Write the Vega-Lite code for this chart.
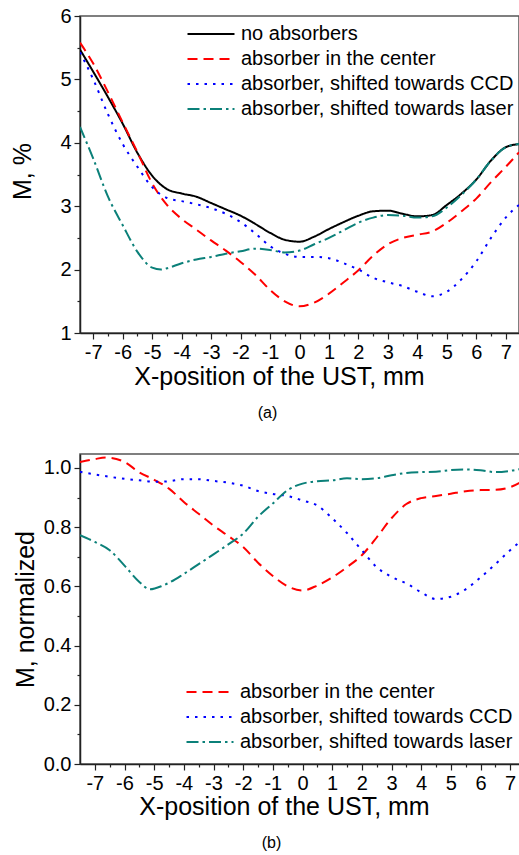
{
  "$schema": "https://vega.github.io/schema/vega-lite/v6.json",
  "background": "white",
  "padding": {"left": 9, "top": 5, "right": 0, "bottom": 0},
  "spacing": 31,
  "config": {
    "font": "Liberation Sans",
    "view": {"stroke": "#555", "strokeWidth": 1.5},
    "axis": {"grid": false, "domainColor": "#222", "domainWidth": 1.5, "tickColor": "#222", "tickWidth": 1.2, "labelColor": "black", "titleColor": "black", "labelFontSize": 20, "titleFontSize": 25, "titleFontWeight": "normal", "labelFont": "Liberation Sans", "titleFont": "Liberation Sans", "labelPadding": 3},
    "legend": {"symbolType": "M-2,0H2", "symbolSize": 552, "symbolStrokeWidth": 2, "labelFontSize": 20, "labelOffset": 17, "labelColor": "black", "labelFont": "Liberation Sans", "rowPadding": 2, "padding": 0, "labelLimit": 400}
  },
  "resolve": {"scale": {"color": "independent", "strokeDash": "independent"}, "legend": {"color": "independent", "strokeDash": "independent"}},
  "vconcat": [
    {"hconcat": [
    {
      "width": 439,
      "height": 317,
      "title": {"text": "(a)", "orient": "bottom", "frame": "group", "dx": -32, "fontSize": 16, "fontWeight": "normal", "offset": 16, "color": "black"},
      "data": {"values": [
        {"s": "no absorbers", "x": -7.45, "y": 5.47}, {"s": "no absorbers", "x": -7, "y": 5.12}, {"s": "no absorbers", "x": -6.5, "y": 4.72}, {"s": "no absorbers", "x": -6, "y": 4.3}, {"s": "no absorbers", "x": -5.5, "y": 3.84}, {"s": "no absorbers", "x": -5, "y": 3.48}, {"s": "no absorbers", "x": -4.5, "y": 3.27}, {"s": "no absorbers", "x": -4, "y": 3.2}, {"s": "no absorbers", "x": -3.5, "y": 3.15}, {"s": "no absorbers", "x": -3, "y": 3.05}, {"s": "no absorbers", "x": -2.5, "y": 2.95}, {"s": "no absorbers", "x": -2, "y": 2.85}, {"s": "no absorbers", "x": -1.5, "y": 2.72}, {"s": "no absorbers", "x": -1, "y": 2.58}, {"s": "no absorbers", "x": -0.5, "y": 2.47}, {"s": "no absorbers", "x": 0, "y": 2.44}, {"s": "no absorbers", "x": 0.5, "y": 2.52}, {"s": "no absorbers", "x": 1, "y": 2.64}, {"s": "no absorbers", "x": 1.5, "y": 2.75}, {"s": "no absorbers", "x": 2, "y": 2.85}, {"s": "no absorbers", "x": 2.5, "y": 2.92}, {"s": "no absorbers", "x": 3, "y": 2.93}, {"s": "no absorbers", "x": 3.5, "y": 2.88}, {"s": "no absorbers", "x": 4, "y": 2.84}, {"s": "no absorbers", "x": 4.5, "y": 2.86}, {"s": "no absorbers", "x": 5, "y": 3.02}, {"s": "no absorbers", "x": 5.5, "y": 3.2}, {"s": "no absorbers", "x": 6, "y": 3.42}, {"s": "no absorbers", "x": 6.5, "y": 3.72}, {"s": "no absorbers", "x": 7, "y": 3.93}, {"s": "no absorbers", "x": 7.45, "y": 3.98},
        {"s": "absorber in the center", "x": -7.45, "y": 5.58}, {"s": "absorber in the center", "x": -7, "y": 5.25}, {"s": "absorber in the center", "x": -6.5, "y": 4.8}, {"s": "absorber in the center", "x": -6, "y": 4.32}, {"s": "absorber in the center", "x": -5.5, "y": 3.85}, {"s": "absorber in the center", "x": -5, "y": 3.36}, {"s": "absorber in the center", "x": -4.5, "y": 3.02}, {"s": "absorber in the center", "x": -4, "y": 2.8}, {"s": "absorber in the center", "x": -3.5, "y": 2.63}, {"s": "absorber in the center", "x": -3, "y": 2.46}, {"s": "absorber in the center", "x": -2.5, "y": 2.3}, {"s": "absorber in the center", "x": -2, "y": 2.12}, {"s": "absorber in the center", "x": -1.5, "y": 1.92}, {"s": "absorber in the center", "x": -1, "y": 1.68}, {"s": "absorber in the center", "x": -0.5, "y": 1.5}, {"s": "absorber in the center", "x": 0, "y": 1.42}, {"s": "absorber in the center", "x": 0.5, "y": 1.48}, {"s": "absorber in the center", "x": 1, "y": 1.62}, {"s": "absorber in the center", "x": 1.5, "y": 1.8}, {"s": "absorber in the center", "x": 2, "y": 1.99}, {"s": "absorber in the center", "x": 2.5, "y": 2.22}, {"s": "absorber in the center", "x": 3, "y": 2.4}, {"s": "absorber in the center", "x": 3.5, "y": 2.5}, {"s": "absorber in the center", "x": 4, "y": 2.55}, {"s": "absorber in the center", "x": 4.5, "y": 2.6}, {"s": "absorber in the center", "x": 5, "y": 2.74}, {"s": "absorber in the center", "x": 5.5, "y": 2.92}, {"s": "absorber in the center", "x": 6, "y": 3.12}, {"s": "absorber in the center", "x": 6.5, "y": 3.38}, {"s": "absorber in the center", "x": 7, "y": 3.62}, {"s": "absorber in the center", "x": 7.45, "y": 3.85},
        {"s": "absorber, shifted towards CCD", "x": -7.45, "y": 5.43}, {"s": "absorber, shifted towards CCD", "x": -7, "y": 5.0}, {"s": "absorber, shifted towards CCD", "x": -6.5, "y": 4.45}, {"s": "absorber, shifted towards CCD", "x": -6, "y": 3.98}, {"s": "absorber, shifted towards CCD", "x": -5.5, "y": 3.62}, {"s": "absorber, shifted towards CCD", "x": -5, "y": 3.3}, {"s": "absorber, shifted towards CCD", "x": -4.5, "y": 3.13}, {"s": "absorber, shifted towards CCD", "x": -4, "y": 3.08}, {"s": "absorber, shifted towards CCD", "x": -3.5, "y": 3.03}, {"s": "absorber, shifted towards CCD", "x": -3, "y": 2.97}, {"s": "absorber, shifted towards CCD", "x": -2.5, "y": 2.88}, {"s": "absorber, shifted towards CCD", "x": -2, "y": 2.75}, {"s": "absorber, shifted towards CCD", "x": -1.5, "y": 2.57}, {"s": "absorber, shifted towards CCD", "x": -1, "y": 2.37}, {"s": "absorber, shifted towards CCD", "x": -0.5, "y": 2.25}, {"s": "absorber, shifted towards CCD", "x": 0, "y": 2.2}, {"s": "absorber, shifted towards CCD", "x": 0.5, "y": 2.2}, {"s": "absorber, shifted towards CCD", "x": 1, "y": 2.18}, {"s": "absorber, shifted towards CCD", "x": 1.5, "y": 2.1}, {"s": "absorber, shifted towards CCD", "x": 2, "y": 2.0}, {"s": "absorber, shifted towards CCD", "x": 2.5, "y": 1.87}, {"s": "absorber, shifted towards CCD", "x": 3, "y": 1.8}, {"s": "absorber, shifted towards CCD", "x": 3.5, "y": 1.74}, {"s": "absorber, shifted towards CCD", "x": 4, "y": 1.65}, {"s": "absorber, shifted towards CCD", "x": 4.5, "y": 1.58}, {"s": "absorber, shifted towards CCD", "x": 5, "y": 1.65}, {"s": "absorber, shifted towards CCD", "x": 5.5, "y": 1.85}, {"s": "absorber, shifted towards CCD", "x": 6, "y": 2.13}, {"s": "absorber, shifted towards CCD", "x": 6.5, "y": 2.5}, {"s": "absorber, shifted towards CCD", "x": 7, "y": 2.82}, {"s": "absorber, shifted towards CCD", "x": 7.45, "y": 3.02},
        {"s": "absorber, shifted towards laser", "x": -7.45, "y": 4.25}, {"s": "absorber, shifted towards laser", "x": -7, "y": 3.75}, {"s": "absorber, shifted towards laser", "x": -6.5, "y": 3.15}, {"s": "absorber, shifted towards laser", "x": -6, "y": 2.7}, {"s": "absorber, shifted towards laser", "x": -5.5, "y": 2.28}, {"s": "absorber, shifted towards laser", "x": -5, "y": 2.03}, {"s": "absorber, shifted towards laser", "x": -4.7, "y": 2.0}, {"s": "absorber, shifted towards laser", "x": -4.5, "y": 2.02}, {"s": "absorber, shifted towards laser", "x": -4, "y": 2.1}, {"s": "absorber, shifted towards laser", "x": -3.5, "y": 2.16}, {"s": "absorber, shifted towards laser", "x": -3, "y": 2.2}, {"s": "absorber, shifted towards laser", "x": -2.5, "y": 2.25}, {"s": "absorber, shifted towards laser", "x": -2, "y": 2.29}, {"s": "absorber, shifted towards laser", "x": -1.5, "y": 2.33}, {"s": "absorber, shifted towards laser", "x": -1, "y": 2.31}, {"s": "absorber, shifted towards laser", "x": -0.5, "y": 2.27}, {"s": "absorber, shifted towards laser", "x": 0, "y": 2.3}, {"s": "absorber, shifted towards laser", "x": 0.5, "y": 2.4}, {"s": "absorber, shifted towards laser", "x": 1, "y": 2.5}, {"s": "absorber, shifted towards laser", "x": 1.5, "y": 2.62}, {"s": "absorber, shifted towards laser", "x": 2, "y": 2.74}, {"s": "absorber, shifted towards laser", "x": 2.5, "y": 2.82}, {"s": "absorber, shifted towards laser", "x": 3, "y": 2.86}, {"s": "absorber, shifted towards laser", "x": 3.5, "y": 2.85}, {"s": "absorber, shifted towards laser", "x": 4, "y": 2.82}, {"s": "absorber, shifted towards laser", "x": 4.5, "y": 2.84}, {"s": "absorber, shifted towards laser", "x": 5, "y": 2.98}, {"s": "absorber, shifted towards laser", "x": 5.5, "y": 3.18}, {"s": "absorber, shifted towards laser", "x": 6, "y": 3.42}, {"s": "absorber, shifted towards laser", "x": 6.5, "y": 3.72}, {"s": "absorber, shifted towards laser", "x": 7, "y": 3.93}, {"s": "absorber, shifted towards laser", "x": 7.45, "y": 3.98}
      ]},
      "mark": {"type": "line", "interpolate": "monotone", "strokeWidth": 2, "clip": true},
      "encoding": {
        "x": {"field": "x", "type": "quantitative", "scale": {"domain": [-7.45, 7.45], "nice": false, "zero": false},
          "axis": {"title": "X-position of the UST, mm", "titlePadding": 2, "titleX": 199, "values": [-7, -6.5, -6, -5.5, -5, -4.5, -4, -3.5, -3, -2.5, -2, -1.5, -1, -0.5, 0, 0.5, 1, 1.5, 2, 2.5, 3, 3.5, 4, 4.5, 5, 5.5, 6, 6.5, 7],
            "labelExpr": "datum.value % 1 === 0 ? '' + datum.value : ''",
            "tickSize": {"condition": {"test": "datum.value % 1 === 0", "value": 6}, "value": 3}}},
        "y": {"field": "y", "type": "quantitative", "scale": {"domain": [1, 6], "nice": false, "zero": false},
          "axis": {"title": "M, %", "titleX": -45, "titleY": 155, "values": [1, 1.5, 2, 2.5, 3, 3.5, 4, 4.5, 5, 5.5, 6],
            "labelExpr": "datum.value % 1 === 0 ? '' + datum.value : ''",
            "tickSize": {"condition": {"test": "datum.value % 1 === 0", "value": 6}, "value": 3}}},
        "color": {"field": "s", "type": "nominal", "title": null,
          "scale": {"domain": ["no absorbers", "absorber in the center", "absorber, shifted towards CCD", "absorber, shifted towards laser"], "range": ["#000000", "#ff0000", "#0000ff", "#0b8079"]},
          "legend": {"orient": "top-right", "offset": 5}},
        "strokeDash": {"field": "s", "type": "nominal", "title": null,
          "scale": {"domain": ["no absorbers", "absorber in the center", "absorber, shifted towards CCD", "absorber, shifted towards laser"], "range": [[1, 0], [10, 6], [2.5, 6], [12, 4, 2.5, 4]]},
          "legend": {"orient": "top-right", "offset": 5}}
      }
    }],
    "resolve": {"scale": {"color": "independent", "strokeDash": "independent"}, "legend": {"color": "independent", "strokeDash": "independent"}}},
    {"hconcat": [
    {
      "width": 445,
      "height": 310,
      "title": {"text": "(b)", "orient": "bottom", "frame": "group", "dx": -31, "fontSize": 16, "fontWeight": "normal", "offset": 16, "color": "black"},
      "data": {"values": [
        {"s": "absorber in the center", "x": -7.5, "y": 1.02}, {"s": "absorber in the center", "x": -7, "y": 1.03}, {"s": "absorber in the center", "x": -6.6, "y": 1.035}, {"s": "absorber in the center", "x": -6, "y": 1.02}, {"s": "absorber in the center", "x": -5.5, "y": 0.985}, {"s": "absorber in the center", "x": -5, "y": 0.96}, {"s": "absorber in the center", "x": -4.5, "y": 0.93}, {"s": "absorber in the center", "x": -4, "y": 0.885}, {"s": "absorber in the center", "x": -3.5, "y": 0.845}, {"s": "absorber in the center", "x": -3, "y": 0.805}, {"s": "absorber in the center", "x": -2.5, "y": 0.77}, {"s": "absorber in the center", "x": -2, "y": 0.733}, {"s": "absorber in the center", "x": -1.5, "y": 0.68}, {"s": "absorber in the center", "x": -1, "y": 0.635}, {"s": "absorber in the center", "x": -0.5, "y": 0.6}, {"s": "absorber in the center", "x": 0, "y": 0.586}, {"s": "absorber in the center", "x": 0.5, "y": 0.603}, {"s": "absorber in the center", "x": 1, "y": 0.63}, {"s": "absorber in the center", "x": 1.5, "y": 0.665}, {"s": "absorber in the center", "x": 2, "y": 0.705}, {"s": "absorber in the center", "x": 2.5, "y": 0.765}, {"s": "absorber in the center", "x": 3, "y": 0.83}, {"s": "absorber in the center", "x": 3.5, "y": 0.878}, {"s": "absorber in the center", "x": 4, "y": 0.898}, {"s": "absorber in the center", "x": 4.5, "y": 0.905}, {"s": "absorber in the center", "x": 5, "y": 0.913}, {"s": "absorber in the center", "x": 5.5, "y": 0.921}, {"s": "absorber in the center", "x": 6, "y": 0.925}, {"s": "absorber in the center", "x": 6.5, "y": 0.926}, {"s": "absorber in the center", "x": 7, "y": 0.935}, {"s": "absorber in the center", "x": 7.5, "y": 0.96},
        {"s": "absorber, shifted towards CCD", "x": -7.5, "y": 0.987}, {"s": "absorber, shifted towards CCD", "x": -7, "y": 0.978}, {"s": "absorber, shifted towards CCD", "x": -6.5, "y": 0.97}, {"s": "absorber, shifted towards CCD", "x": -6, "y": 0.963}, {"s": "absorber, shifted towards CCD", "x": -5.5, "y": 0.958}, {"s": "absorber, shifted towards CCD", "x": -5, "y": 0.953}, {"s": "absorber, shifted towards CCD", "x": -4.5, "y": 0.955}, {"s": "absorber, shifted towards CCD", "x": -4, "y": 0.962}, {"s": "absorber, shifted towards CCD", "x": -3.5, "y": 0.962}, {"s": "absorber, shifted towards CCD", "x": -3, "y": 0.956}, {"s": "absorber, shifted towards CCD", "x": -2.5, "y": 0.95}, {"s": "absorber, shifted towards CCD", "x": -2, "y": 0.94}, {"s": "absorber, shifted towards CCD", "x": -1.5, "y": 0.922}, {"s": "absorber, shifted towards CCD", "x": -1, "y": 0.912}, {"s": "absorber, shifted towards CCD", "x": -0.5, "y": 0.905}, {"s": "absorber, shifted towards CCD", "x": 0, "y": 0.89}, {"s": "absorber, shifted towards CCD", "x": 0.5, "y": 0.873}, {"s": "absorber, shifted towards CCD", "x": 1, "y": 0.83}, {"s": "absorber, shifted towards CCD", "x": 1.5, "y": 0.78}, {"s": "absorber, shifted towards CCD", "x": 2, "y": 0.722}, {"s": "absorber, shifted towards CCD", "x": 2.5, "y": 0.665}, {"s": "absorber, shifted towards CCD", "x": 3, "y": 0.632}, {"s": "absorber, shifted towards CCD", "x": 3.5, "y": 0.61}, {"s": "absorber, shifted towards CCD", "x": 4, "y": 0.58}, {"s": "absorber, shifted towards CCD", "x": 4.5, "y": 0.557}, {"s": "absorber, shifted towards CCD", "x": 5, "y": 0.565}, {"s": "absorber, shifted towards CCD", "x": 5.5, "y": 0.59}, {"s": "absorber, shifted towards CCD", "x": 6, "y": 0.63}, {"s": "absorber, shifted towards CCD", "x": 6.5, "y": 0.675}, {"s": "absorber, shifted towards CCD", "x": 7, "y": 0.722}, {"s": "absorber, shifted towards CCD", "x": 7.5, "y": 0.765},
        {"s": "absorber, shifted towards laser", "x": -7.5, "y": 0.773}, {"s": "absorber, shifted towards laser", "x": -7, "y": 0.75}, {"s": "absorber, shifted towards laser", "x": -6.5, "y": 0.722}, {"s": "absorber, shifted towards laser", "x": -6, "y": 0.67}, {"s": "absorber, shifted towards laser", "x": -5.5, "y": 0.615}, {"s": "absorber, shifted towards laser", "x": -5.14, "y": 0.59}, {"s": "absorber, shifted towards laser", "x": -4.7, "y": 0.603}, {"s": "absorber, shifted towards laser", "x": -4.5, "y": 0.612}, {"s": "absorber, shifted towards laser", "x": -4, "y": 0.642}, {"s": "absorber, shifted towards laser", "x": -3.5, "y": 0.675}, {"s": "absorber, shifted towards laser", "x": -3, "y": 0.708}, {"s": "absorber, shifted towards laser", "x": -2.5, "y": 0.742}, {"s": "absorber, shifted towards laser", "x": -2, "y": 0.778}, {"s": "absorber, shifted towards laser", "x": -1.5, "y": 0.835}, {"s": "absorber, shifted towards laser", "x": -1, "y": 0.88}, {"s": "absorber, shifted towards laser", "x": -0.5, "y": 0.925}, {"s": "absorber, shifted towards laser", "x": 0, "y": 0.947}, {"s": "absorber, shifted towards laser", "x": 0.5, "y": 0.955}, {"s": "absorber, shifted towards laser", "x": 1, "y": 0.958}, {"s": "absorber, shifted towards laser", "x": 1.5, "y": 0.965}, {"s": "absorber, shifted towards laser", "x": 2, "y": 0.962}, {"s": "absorber, shifted towards laser", "x": 2.5, "y": 0.965}, {"s": "absorber, shifted towards laser", "x": 3, "y": 0.975}, {"s": "absorber, shifted towards laser", "x": 3.5, "y": 0.983}, {"s": "absorber, shifted towards laser", "x": 4, "y": 0.986}, {"s": "absorber, shifted towards laser", "x": 4.5, "y": 0.987}, {"s": "absorber, shifted towards laser", "x": 5, "y": 0.993}, {"s": "absorber, shifted towards laser", "x": 5.5, "y": 0.995}, {"s": "absorber, shifted towards laser", "x": 6, "y": 0.992}, {"s": "absorber, shifted towards laser", "x": 6.5, "y": 0.986}, {"s": "absorber, shifted towards laser", "x": 7, "y": 0.99}, {"s": "absorber, shifted towards laser", "x": 7.5, "y": 1.0}
      ]},
      "mark": {"type": "line", "interpolate": "monotone", "strokeWidth": 2, "clip": true},
      "encoding": {
        "x": {"field": "x", "type": "quantitative", "scale": {"domain": [-7.5, 7.5], "nice": false, "zero": false},
          "axis": {"title": "X-position of the UST, mm", "titlePadding": 1, "titleX": 204, "values": [-7, -6.5, -6, -5.5, -5, -4.5, -4, -3.5, -3, -2.5, -2, -1.5, -1, -0.5, 0, 0.5, 1, 1.5, 2, 2.5, 3, 3.5, 4, 4.5, 5, 5.5, 6, 6.5, 7],
            "labelExpr": "datum.value % 1 === 0 ? '' + datum.value : ''",
            "tickSize": {"condition": {"test": "datum.value % 1 === 0", "value": 6}, "value": 3}}},
        "y": {"field": "y", "type": "quantitative", "scale": {"domain": [0, 1.047], "nice": false, "zero": false},
          "axis": {"title": "M, normalized", "titleX": -42, "titleY": 155, "values": [0, 0.1, 0.2, 0.3, 0.4, 0.5, 0.6, 0.7, 0.8, 0.9, 1.0],
            "labelExpr": "round(datum.value * 10) % 2 === 0 ? format(datum.value, '.1f') : ''",
            "tickSize": {"condition": {"test": "round(datum.value * 10) % 2 === 0", "value": 6}, "value": 3}}},
        "color": {"field": "s", "type": "nominal", "title": null,
          "scale": {"domain": ["absorber in the center", "absorber, shifted towards CCD", "absorber, shifted towards laser"], "range": ["#ff0000", "#0000ff", "#0b8079"]},
          "legend": {"orient": "bottom-right", "offset": 12}},
        "strokeDash": {"field": "s", "type": "nominal", "title": null,
          "scale": {"domain": ["absorber in the center", "absorber, shifted towards CCD", "absorber, shifted towards laser"], "range": [[10, 6], [2.5, 6], [12, 4, 2.5, 4]]},
          "legend": {"orient": "bottom-right", "offset": 12}}
      }
    }],
    "resolve": {"scale": {"color": "independent", "strokeDash": "independent"}, "legend": {"color": "independent", "strokeDash": "independent"}}}
  ]
}
